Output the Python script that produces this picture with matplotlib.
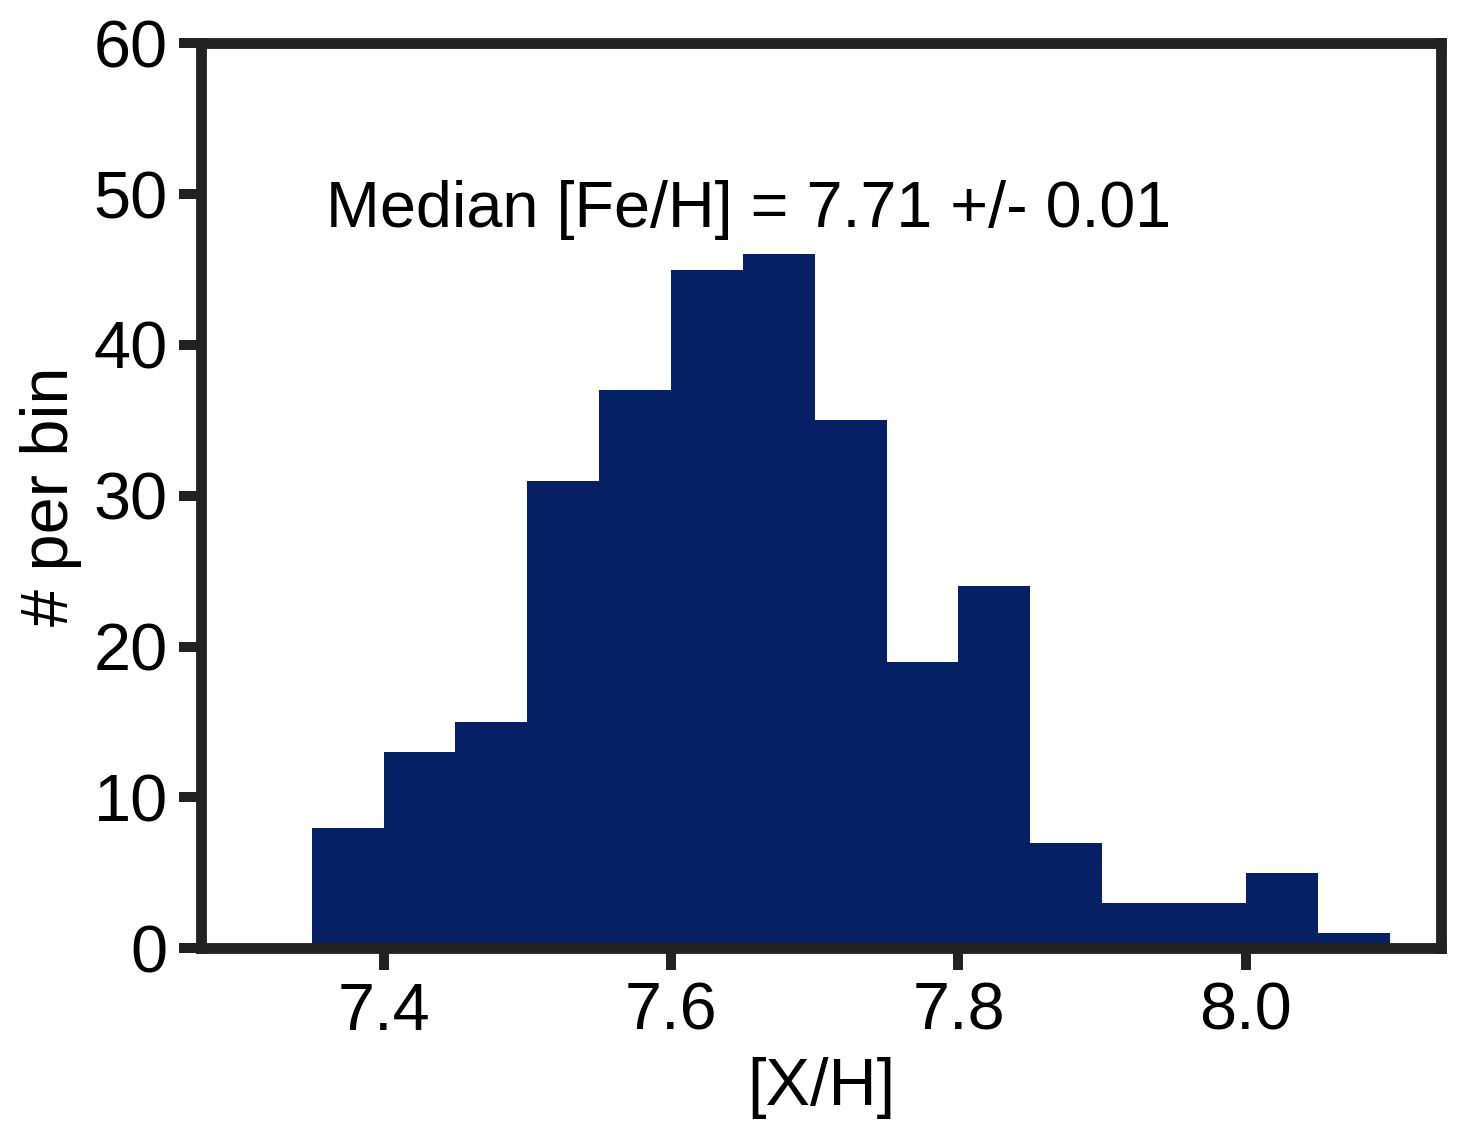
import numpy as np
import matplotlib.pyplot as plt

plt.rcParams["font.family"] = ["Liberation Sans", "DejaVu Sans"]

# histogram bins ([X/H]) and counts per bin
bin_edges = [7.35, 7.40, 7.45, 7.50, 7.55, 7.60, 7.65, 7.70,
             7.75, 7.80, 7.85, 7.90, 7.95, 8.00, 8.05, 8.10]
counts = [8, 13, 15, 31, 37, 45, 46, 35, 19, 24, 7, 3, 3, 5, 1]

x_ticks = [7.4, 7.6, 7.8, 8.0]
y_ticks = [0, 10, 20, 30, 40, 50, 60]
label_text = "Median [Fe/H] = 7.71 +/- 0.01"

fig = plt.figure(figsize=(7.305, 5.705), dpi=200)
ax = fig.add_axes([0.1376, 0.169, 0.849, 0.793])

ax.hist(
    bin_edges[:-1],
    bins=bin_edges,
    weights=counts,
    color="#062066",
)

ax.set_xlim(7.273, 8.136)
ax.set_ylim(0, 60)
ax.set_xticks(x_ticks)
ax.set_xticklabels([f"{t:.1f}" for t in x_ticks])
ax.set_yticks(y_ticks)

ax.text(7.36, 47.8, label_text, fontsize=23.3)

ax.set_xlabel("[X/H]", fontsize=24, labelpad=5)
ax.set_ylabel("# per bin", fontsize=24, labelpad=4)

for s in ax.spines.values():
    s.set_linewidth(3.9)
    s.set_color("#222222")

ax.tick_params(
    axis="both",
    direction="out",
    length=8,
    width=3.6,
    color="#222222",
    labelsize=24,
    pad=4,
)

fig.savefig("out.png", dpi=200)
plt.close(fig)
